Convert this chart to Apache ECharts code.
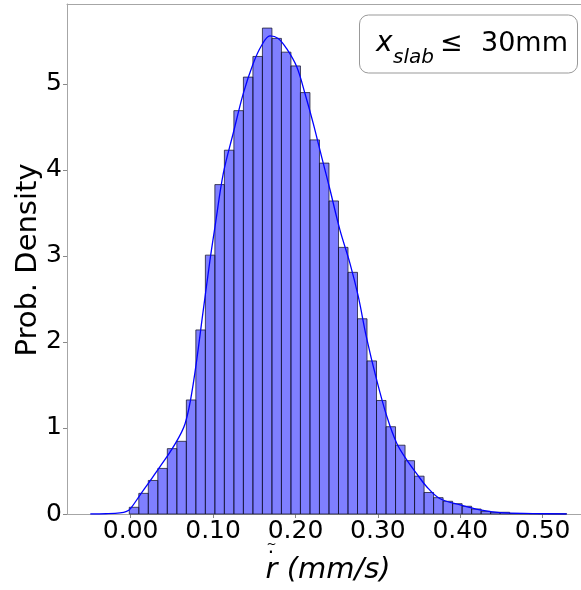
<!DOCTYPE html>
<html>
<head>
<meta charset="utf-8">
<script src="https://cdn.jsdelivr.net/npm/echarts@6.0.0/dist/echarts.min.js"></script>
<style>
  html, body { margin: 0; padding: 0; background: #fff; }
  #chart { width: 581px; height: 590px; }
</style>
</head>
<body>
<div id="chart"></div>
<script>
// Histogram bins (left edge of first bin and bin width, in mm/s)
const binStart = -0.0017;
const binWidth = 0.01154;
// Histogram densities per bin
const densities = [
  0.078, 0.24, 0.39, 0.53, 0.76, 0.845, 1.326, 2.14, 3.01, 3.83,
  4.23, 4.69, 5.08, 5.32, 5.65, 5.53, 5.37, 5.21, 4.90, 4.35,
  4.08, 3.64, 3.10, 2.81, 2.27, 1.78, 1.32, 1.015, 0.80, 0.62,
  0.44, 0.25, 0.19, 0.148, 0.12, 0.09, 0.058, 0.031, 0.02, 0.02,
  0.006, 0.005, 0.004, 0.003, 0.002, 0.002
];
// KDE curve
const kdeX = [-0.049, -0.03, -0.013, -0.005, 0.0, 0.0113, 0.0214, 0.0356, 0.0517, 0.066,
  0.076, 0.0881, 0.0962, 0.1023, 0.1124, 0.1245, 0.1367, 0.1488, 0.159, 0.169,
  0.179, 0.1893, 0.2015, 0.2115, 0.2216, 0.2318, 0.2419, 0.254, 0.2661, 0.2762,
  0.286, 0.2985, 0.311, 0.323, 0.335, 0.347, 0.359, 0.375, 0.40, 0.424,
  0.448, 0.488, 0.529];
const kdeY = [0.0, 0.003, 0.012, 0.03, 0.066, 0.22, 0.357, 0.55, 0.78, 1.05,
  1.52, 2.37, 2.95, 3.34, 3.96, 4.43, 4.89, 5.24, 5.45, 5.56,
  5.53, 5.41, 5.20, 4.89, 4.54, 4.15, 3.77, 3.30, 2.915, 2.53,
  2.06, 1.56, 1.13, 0.82, 0.63, 0.47, 0.32, 0.18, 0.105, 0.047,
  0.015, 0.005, 0.0];
// Tick labels
const xTicks = [0.0, 0.1, 0.2, 0.3, 0.4, 0.5];
const yTicks = [0, 1, 2, 3, 4, 5];

const FONT = 'DejaVu Sans';
const SPINE = '#a6a6a6';
const X_MIN = -0.0773, X_MAX = 0.5465;
const chart = echarts.init(document.getElementById('chart'), null, { renderer: 'canvas' });

const barData = densities.map((v, i) => [binStart + i * binWidth, binStart + (i + 1) * binWidth, v]);
const kdeData = kdeX.map((x, i) => [x, kdeY[i]]);

chart.setOption({
  animation: false,
  backgroundColor: '#ffffff',
  grid: {
    left: 67, top: 4, right: 0, bottom: 76,
    show: false,
    outerBoundsMode: 'none'
  },
  xAxis: [{
    type: 'value', min: X_MIN, max: X_MAX, position: 'bottom',
    splitLine: { show: false },
    axisLine: { show: true, onZero: false, lineStyle: { color: SPINE, width: 1 } },
    axisTick: { show: true, length: 4, lineStyle: { color: '#888' }, customValues: xTicks },
    axisLabel: {
      customValues: xTicks, margin: 5,
      formatter: v => v.toFixed(2),
      fontFamily: FONT, fontSize: 25, color: '#000'
    }
  }, {
    type: 'value', min: X_MIN, max: X_MAX, position: 'top',
    splitLine: { show: false },
    axisLine: { show: true, onZero: false, lineStyle: { color: SPINE, width: 1 } },
    axisTick: { show: false },
    axisLabel: { show: false }
  }],
  yAxis: {
    type: 'value', min: 0, max: 5.93,
    splitLine: { show: false },
    axisLine: { show: true, onZero: false, lineStyle: { color: SPINE, width: 1 } },
    axisTick: { show: true, length: 4, lineStyle: { color: '#888' }, customValues: yTicks },
    axisLabel: {
      customValues: yTicks, margin: 5,
      formatter: v => String(v),
      fontFamily: FONT, fontSize: 25, color: '#000'
    }
  },
  series: [
    {
      type: 'custom',
      xAxisIndex: 0,
      data: barData,
      encode: { x: [0, 1], y: 2 },
      renderItem: function (params, api) {
        const p0 = api.coord([api.value(0), api.value(2)]);
        const p1 = api.coord([api.value(1), 0]);
        return {
          type: 'rect',
          shape: { x: p0[0], y: p0[1], width: p1[0] - p0[0], height: p1[1] - p0[1] },
          style: { fill: 'rgba(0,0,255,0.5)', stroke: 'rgba(20,20,40,0.75)', lineWidth: 1 }
        };
      },
      z: 2
    },
    {
      type: 'line',
      xAxisIndex: 0,
      data: kdeData,
      smooth: 0.35,
      symbol: 'none',
      lineStyle: { color: '#0000ff', width: 1.3 },
      z: 3
    }
  ],
  graphic: [
    {
      type: 'text', x: 28.5, y: 260, rotation: Math.PI / 2,
      style: { text: 'Prob. Density', fontFamily: FONT, fontSize: 29, fill: '#000', align: 'center', verticalAlign: 'middle' }
    },
    {
      type: 'text', x: 265.5, y: 570,
      style: { text: 'r (mm/s)', fontFamily: FONT, fontStyle: 'italic', fontSize: 29, fill: '#000', align: 'left', verticalAlign: 'middle' }
    },
    {
      type: 'text', x: 271, y: 547.5,
      style: { text: '.', fontFamily: FONT, fontSize: 20, fill: '#000', align: 'center', verticalAlign: 'middle' }
    },
    {
      type: 'text', x: 271.5, y: 545,
      style: { text: '~', fontFamily: FONT, fontSize: 12, fill: '#000', align: 'center', verticalAlign: 'middle' }
    },
    {
      type: 'rect',
      shape: { x: 359.5, y: 15, width: 218, height: 58, r: 9 },
      style: { fill: '#fff', stroke: '#999', lineWidth: 1 },
      z: 10
    },
    {
      type: 'text', x: 376, y: 44, z: 11,
      style: { text: 'x', fontFamily: FONT, fontStyle: 'italic', fontSize: 28, fill: '#000', align: 'left', verticalAlign: 'middle' }
    },
    {
      type: 'text', x: 393, y: 57.5, z: 11,
      style: { text: 'slab', fontFamily: FONT, fontStyle: 'italic', fontSize: 20, fill: '#000', align: 'left', verticalAlign: 'middle' }
    },
    {
      type: 'text', x: 440, y: 44, z: 11,
      style: { text: '\u2264', fontFamily: FONT, fontSize: 27, fill: '#000', align: 'left', verticalAlign: 'middle' }
    },
    {
      type: 'text', x: 481, y: 44, z: 11,
      style: { text: '30mm', fontFamily: FONT, fontSize: 27, fill: '#000', align: 'left', verticalAlign: 'middle' }
    }
  ]
});
</script>
</body>
</html>
